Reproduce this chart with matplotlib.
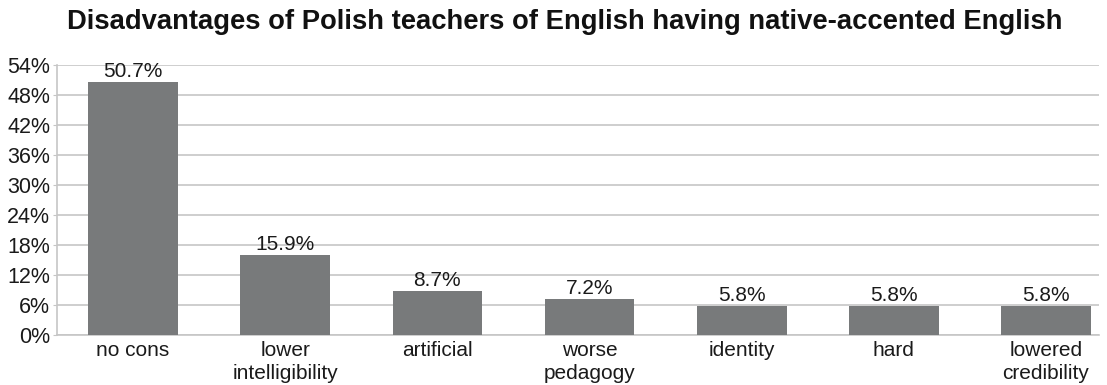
import matplotlib
matplotlib.use("Agg")
import matplotlib.pyplot as plt
from matplotlib.ticker import FuncFormatter, MultipleLocator

plt.rcParams['font.family'] = ['Liberation Sans', 'DejaVu Sans']

categories = ["no cons", "lower\nintelligibility", "artificial", "worse\npedagogy",
              "identity", "hard", "lowered\ncredibility"]
values = [50.7, 15.9, 8.7, 7.2, 5.8, 5.8, 5.8]
value_labels = ["50.7%", "15.9%", "8.7%", "7.2%", "5.8%", "5.8%", "5.8%"]
y_max = 54
y_step = 6

fig = plt.figure(figsize=(11.07, 3.85), dpi=100)
ax = fig.add_axes([0.0515, 0.13, 0.9415, 0.701])

x = range(len(categories))
ax.bar(x, values, width=0.59, color="#787a7b", zorder=3)

for xi, v, lab in zip(x, values, value_labels):
    ax.text(xi, v + 0.2, lab, ha="center", va="bottom", fontsize=15, color="#1a1a1a")

ax.set_xlim(-0.5, len(categories) - 0.65)
ax.set_ylim(0, y_max)
ax.yaxis.set_major_locator(MultipleLocator(y_step))
ax.yaxis.set_major_formatter(FuncFormatter(lambda v, p: f"{v:.0f}%"))
ax.grid(axis="y", color="#c6c6c6", linewidth=1.2, zorder=0)
ax.set_xticks(list(x))
ax.set_xticklabels(categories, fontsize=15, color="#1a1a1a", linespacing=1.3)
ax.tick_params(axis="y", labelsize=15.5, labelcolor="#1a1a1a", length=3, color="#c6c6c6", pad=2)
ax.tick_params(axis="x", length=0, pad=4)

for side in ("top", "right"):
    ax.spines[side].set_visible(False)
ax.spines["left"].set_color("#c6c6c6")
ax.spines["left"].set_linewidth(1.2)
ax.spines["bottom"].set_color("#c6c6c6")
ax.spines["bottom"].set_linewidth(1.2)

fig.text(0.51, 0.942, "Disadvantages of Polish teachers of English having native-accented English",
         ha="center", va="center", fontsize=19.7, fontweight="bold", color="#111111")

fig.savefig("out.png", dpi=100)
